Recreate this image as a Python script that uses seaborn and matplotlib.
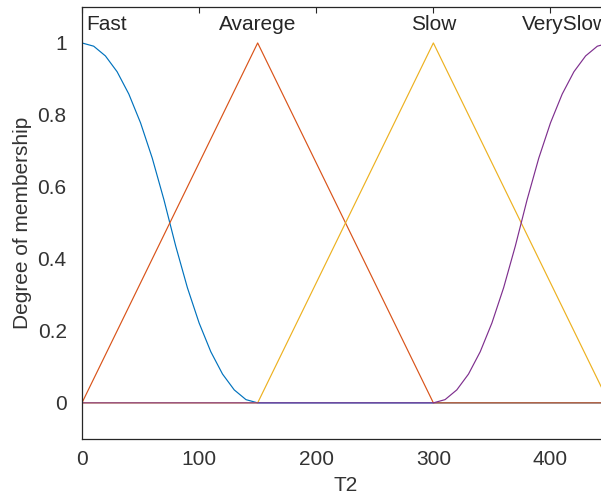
import matplotlib
matplotlib.use("Agg")
import matplotlib.pyplot as plt
import seaborn as sns
import pandas as pd

sns.set_theme(style="white")
plt.rcParams['font.family'] = ['Liberation Sans', 'DejaVu Sans']

# Membership function samples
x_fast = [0, 10, 20, 30, 40, 50, 60, 70, 75, 80, 90, 100, 110, 120, 130, 140, 150, 450]
y_fast = [1, 0.991, 0.964, 0.92, 0.858, 0.778, 0.68, 0.564, 0.5, 0.436, 0.32, 0.222, 0.142, 0.08, 0.036, 0.009, 0, 0]

x_avg = [0, 150, 300, 450]
y_avg = [0, 1, 0, 0]

x_slow = [0, 150, 300, 450]
y_slow = [0, 0, 1, 0]

x_vslow = [0, 300, 310, 320, 330, 340, 350, 360, 370, 375, 380, 390, 400, 410, 420, 430, 440, 450]
y_vslow = [0, 0, 0.009, 0.036, 0.08, 0.142, 0.222, 0.32, 0.436, 0.5, 0.564, 0.68, 0.778, 0.858, 0.92, 0.964, 0.991, 1]

mf_names = ["Fast", "Avarege", "Slow", "VerySlow"]
mf_peaks = [0, 150, 300, 450]
colors = ["#0072BD", "#D95319", "#EDB120", "#7E2F8E"]

fig = plt.figure(figsize=(6.01, 4.97), dpi=100)
ax = fig.add_axes([0.1364, 0.117, 0.877, 0.869])

series = [(x_fast, y_fast), (x_avg, y_avg), (x_slow, y_slow), (x_vslow, y_vslow)]
for (xs, ys), c, name in zip(series, colors, mf_names):
    df = pd.DataFrame({"x": xs, "y": ys})
    sns.lineplot(data=df, x="x", y="y", ax=ax, color=c, lw=0.85, sort=False, estimator=None)

fs = 15
ax.set_xlim(0, 450)
ax.set_ylim(-0.1, 1.1)
ax.set_xticks([0, 100, 200, 300, 400])
ax.set_yticks([0, 0.2, 0.4, 0.6, 0.8, 1])
ax.set_yticklabels(["0", "0.2", "0.4", "0.6", "0.8", "1"])
ax.tick_params(axis="both", direction="in", length=4, width=0.8, color="#262626",
               labelsize=fs, labelcolor="#333333", top=True, right=True)
ax.tick_params(axis="x", pad=8)
ax.tick_params(axis="y", pad=11)
for s in ax.spines.values():
    s.set_color("#262626")
    s.set_linewidth(0.9)

ax.set_xlabel("T2", fontsize=fs, color="#333333", labelpad=5)
ax.set_ylabel("Degree of membership", fontsize=fs, color="#333333", labelpad=4)

aligns = ["left", "center", "center", "right"]
for name, px, ha in zip(mf_names, mf_peaks, aligns):
    ax.text(px + (4 if ha == "left" else 0), 1.05, name, ha=ha, va="center",
            fontsize=fs, color="#262626")

fig.savefig("out.png", dpi=100)
